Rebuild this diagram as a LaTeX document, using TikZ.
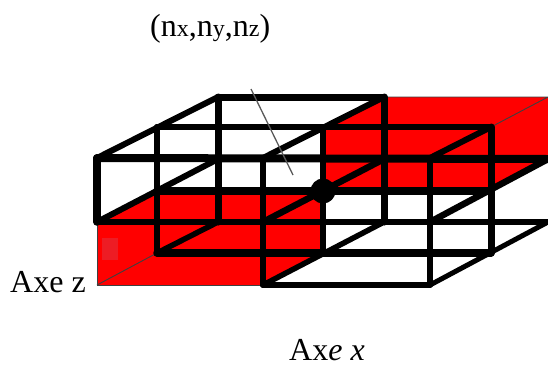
\documentclass[tikz,border=0pt]{standalone}
\usepackage{fontspec}
\setmainfont{Liberation Serif}
\definecolor{pinkpatch}{HTML}{ED1C24}
\tikzset{
  lat/.style={draw=black,line width=#1,line cap=round},
  thinedge/.style={draw=black!75,line width=0.9pt},
  lab/.style={inner sep=0pt,anchor=base west,font=\fontsize{32}{34}\selectfont}
}
\newcommand{\sm}[1]{{\fontsize{24}{26}\selectfont #1}}
\begin{document}
\begin{tikzpicture}[x=1pt,y=-1pt]
\useasboundingbox (0,0) rectangle (548,367);
% lattice points: a = front, b = middle depth, c = back; digits = column, level
\foreach \n/\x/\y in {
 a00/97/158,a10/263/158,a20/430/158,
 a01/97/222,a11/263/222,a21/430/222,
 a02/97/285,a12/263/285,a22/430/285,
 b00/157/127,b10/323/127,b20/491/127,
 b01/157/191,b11/323/191,b21/491/191,
 b02/157/253,b12/323/253,b22/491/253,
 c00/218/97,c10/384/97,c20/548/97,
 c01/218/159,c11/384/159,c21/548/159,
 c02/218/222,c12/384/222,c22/548/222}
 {\coordinate (\n) at (\x,\y);}
% red faces
\fill[red] (a01) -- (b01) -- (b11) -- (b12) -- (a12) -- (a02) -- cycle;
\fill[red] (b11) -- (b10) -- (c10) -- (c20) -- (c21) -- (b21) -- cycle;
\fill[pinkpatch] (102,238) rectangle (118,260);
% thin edges of the red faces
\draw[thinedge] (a01) -- (a02) -- (a12);
\draw[thinedge] (a02) -- (b02);
\draw[thinedge] (b20) -- (c20) -- (c10);
\draw[draw=black!60,line width=1pt] (c20) -- (c22);
% horizontals
\draw[lat=7pt] (c00) -- (c10);
\draw[lat=6pt] (b00) -- (b20);
\draw[lat=8pt] (a00) -- (c21);
\draw[lat=8pt] (b01) -- (b21);
\draw[lat=5.5pt] (a01) -- (c22);
\draw[lat=7.5pt] (b02) -- (b22);
\draw[lat=6pt] (a12) -- (a22);
% verticals
\draw[lat=7.5pt] (a00) -- (a01);
\draw[lat=6pt] (b00) -- (b02);
\draw[lat=7pt] (c00) -- (c02);
\draw[lat=5.5pt] (a10) -- (a12);
\draw[lat=5.5pt] (b10) -- (b12);
\draw[lat=7pt] (c10) -- (c12);
\draw[lat=5.5pt] (a20) -- (a22);
\draw[lat=7pt] (b20) -- (b22);
% depth lines
\draw[lat=6pt] (a00) -- (c00);
\draw[lat=6pt] (a10) -- (c10);
\draw[lat=6pt] (a20) -- (b20);
\draw[lat=6pt] (a01) -- (c01);
\draw[lat=6.5pt] (a11) -- (c11);
\draw[lat=6.5pt] (a21) -- (c21);
\draw[lat=5.5pt] (b02) -- (c02);
\draw[lat=5.5pt] (a12) -- (c12);
\draw[lat=5pt] (a22) -- (c22);
% axis stroke and central dot
\coordinate (s1) at (251,89);
\coordinate (s2) at (293,175);
\draw[draw=black!65,line width=1.3pt] (s1) -- (s2);
\fill[black] (b11) circle (12.5);
% labels
\node[lab] (title) at (150,36) {(n\sm{x},n\sm{y},n\sm{z})};
\node[lab] (axez) at (10,292) {Axe z};
\node[lab] (axex) at (289,360) {Ax\textit{e x}};
\end{tikzpicture}
\end{document}
